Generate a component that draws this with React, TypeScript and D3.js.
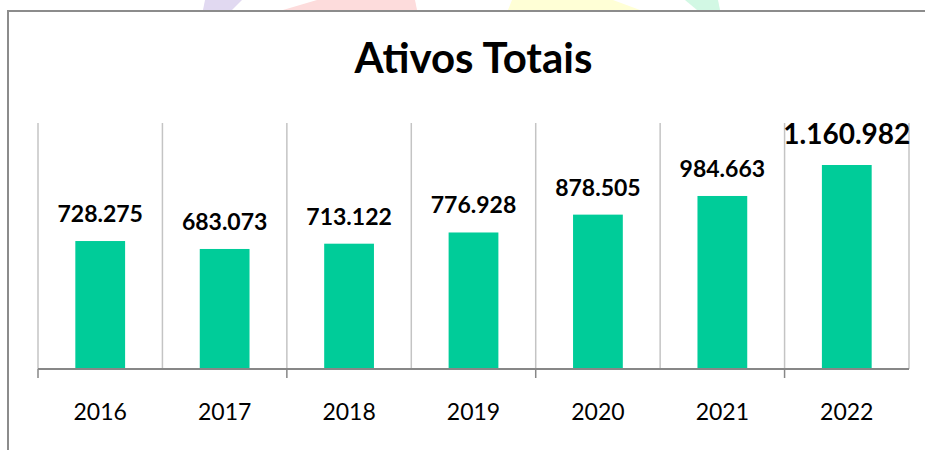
import { useEffect, useRef } from 'react';
import * as d3 from 'd3';

const years = ['2016', '2017', '2018', '2019', '2020', '2021', '2022'];
const totals = [728275, 683073, 713122, 776928, 878505, 984663, 1160982];
const yDomain = [0, 1400000];

// faint logo pieces peeking above the frame
const blobs = [
  { fill: '#e1d9f1', pts: [[205, 0], [242, 0], [232, 10], [203, 10]] },
  { fill: '#fddcdc', pts: [[317, 0], [415, 0], [417, 10], [283, 10]] },
  { fill: '#ffffd6', pts: [[512, 0], [613, 0], [640, 10], [508, 10]] },
  { fill: '#d2f8e4', pts: [[685, 0], [718, 0], [720, 10], [697, 10]] },
];

const FONT = 'Lato, "Open Sans", sans-serif';

function App() {
  const svgRef = useRef<SVGSVGElement>(null);

  useEffect(() => {
    const svg = d3.select(svgRef.current);
    svg.selectAll('*').remove();

    const W = 925;
    const H = 450;
    const left = 38;
    const right = 909;
    const top = 123;
    const bottom = 369;

    svg.attr('width', W).attr('height', H);

    svg.append('rect').attr('width', W).attr('height', H).attr('fill', '#fff');

    svg.selectAll('.blob')
      .data(blobs)
      .join('polygon')
      .attr('class', 'blob')
      .attr('points', d => d.pts.map(p => p.join(',')).join(' '))
      .attr('fill', d => d.fill);

    // chart frame
    svg.append('rect')
      .attr('x', 8)
      .attr('y', 11)
      .attr('width', W)
      .attr('height', H)
      .attr('fill', '#fff')
      .attr('stroke', '#8c8c8c')
      .attr('stroke-width', 2);

    const x = d3.scaleBand()
      .domain(years)
      .range([left, right])
      .paddingInner(0.6)
      .paddingOuter(0.3);

    const y = d3.scaleLinear().domain(yDomain).range([bottom, top]);

    const step = x.step();
    const bounds = d3.range(years.length + 1).map(i => left + i * step);

    // vertical category separators
    svg.selectAll('.sep')
      .data(bounds)
      .join('line')
      .attr('class', 'sep')
      .attr('x1', d => d)
      .attr('x2', d => d)
      .attr('y1', top)
      .attr('y2', bottom)
      .attr('stroke', '#c4c4c4')
      .attr('stroke-width', 1.5);

    svg.selectAll('.bar')
      .data(totals)
      .join('rect')
      .attr('class', 'bar')
      .attr('x', (d, i) => x(years[i]))
      .attr('y', d => y(d))
      .attr('width', x.bandwidth())
      .attr('height', d => bottom - y(d))
      .attr('fill', '#00cc99');

    // axis line + ticks every other boundary
    svg.append('line')
      .attr('x1', left)
      .attr('x2', right)
      .attr('y1', bottom)
      .attr('y2', bottom)
      .attr('stroke', '#878787')
      .attr('stroke-width', 2);

    svg.selectAll('.tick')
      .data(bounds.filter((d, i) => i % 2 === 0))
      .join('line')
      .attr('class', 'tick')
      .attr('x1', d => d)
      .attr('x2', d => d)
      .attr('y1', bottom)
      .attr('y2', bottom + 9)
      .attr('stroke', '#878787')
      .attr('stroke-width', 1.5);

    svg.selectAll('.year')
      .data(years)
      .join('text')
      .attr('class', 'year')
      .attr('x', d => x(d) + x.bandwidth() / 2)
      .attr('y', 420)
      .attr('text-anchor', 'middle')
      .attr('font-family', FONT)
      .attr('font-size', '23px')
      .attr('fill', '#000')
      .text(d => d);

    const fmt = d3.formatLocale({
      decimal: ',',
      thousands: '.',
      grouping: [3],
      currency: ['R$', ''],
    }).format(',d');

    const last = totals.length - 1;

    svg.selectAll('.label')
      .data(totals)
      .join('text')
      .attr('class', 'label')
      .attr('x', (d, i) => x(years[i]) + x.bandwidth() / 2)
      .attr('y', (d, i) => y(d) - (i === last ? 21 : 19))
      .attr('text-anchor', 'middle')
      .attr('font-family', FONT)
      .attr('font-size', (d, i) => (i === last ? '28px' : '23px'))
      .attr('font-weight', 'bold')
      .attr('fill', '#000')
      .text(d => fmt(d));

    svg.append('text')
      .attr('x', (left + right) / 2)
      .attr('y', 73)
      .attr('text-anchor', 'middle')
      .attr('font-family', FONT)
      .attr('font-size', '42px')
      .attr('font-weight', 'bold')
      .attr('fill', '#000')
      .text('Ativos Totais');
  }, []);

  return (
    <svg ref={svgRef} style={{ position: 'absolute', left: 0, top: 0, display: 'block' }}></svg>
  );
}

export default App;
